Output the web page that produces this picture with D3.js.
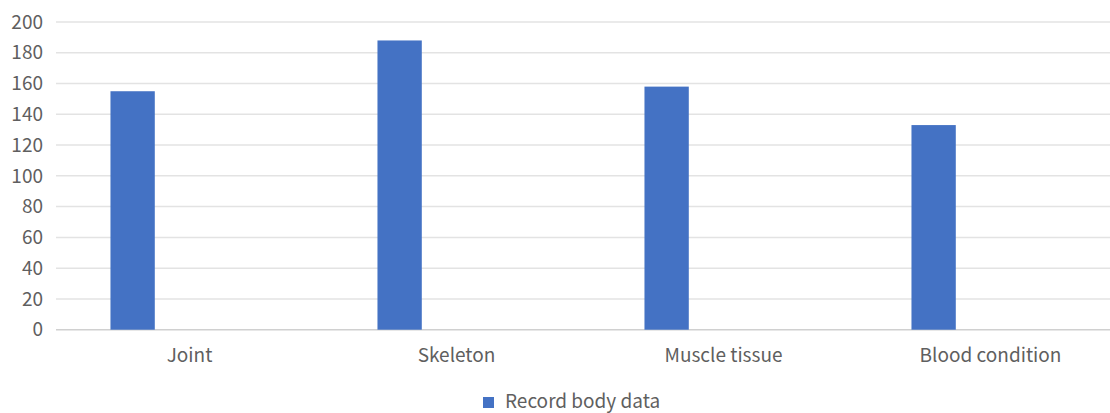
<!DOCTYPE html>
<html>
<head>
<meta charset="utf-8">
<script src="https://cdn.jsdelivr.net/npm/d3@7"></script>
<style>
  html, body { margin: 0; padding: 0; background: #fff; }
  svg { display: block; font-family: "Noto Sans CJK SC", "Noto Sans", sans-serif; }
</style>
</head>
<body>
<svg id="chart" width="1110" height="413"></svg>
<script>
const categories = ["Joint", "Skeleton", "Muscle tissue", "Blood condition"];
const values = [155, 188, 158, 133];
const seriesName = "Record body data";
const yTicks = [0, 20, 40, 60, 80, 100, 120, 140, 160, 180, 200];

(function () {
  const svg = d3.select("#chart");
  const W = 1110;
  const plotLeft = 56, plotRight = 1124, plotTop = 22, plotBottom = 329.7;
  const fontSize = 19;
  const textColor = "#5f5f5f";

  const x = d3.scaleBand().domain(categories).range([plotLeft, plotRight]).padding(0);
  const y = d3.scaleLinear().domain([0, 200]).range([plotBottom, plotTop]);

  // horizontal gridlines
  svg.append("g")
    .selectAll("line")
    .data(yTicks)
    .join("line")
    .attr("x1", plotLeft).attr("x2", W)
    .attr("y1", d => y(d)).attr("y2", d => y(d))
    .attr("stroke", d => d === 0 ? "#d0d0d0" : "#e3e3e3")
    .attr("stroke-width", 1.5);

  // y tick labels
  svg.append("g")
    .selectAll("text")
    .data(yTicks)
    .join("text")
    .attr("x", 43)
    .attr("y", d => y(d))
    .attr("dy", "0.35em")
    .attr("text-anchor", "end")
    .attr("fill", textColor)
    .attr("font-size", fontSize)
    .text(d => d);

  // bars sit in the first slot of each category band
  const bw = x.bandwidth();
  svg.append("g")
    .selectAll("rect")
    .data(categories.map((c, i) => ({ c, v: values[i] })))
    .join("rect")
    .attr("x", d => x(d.c) + bw * 0.204)
    .attr("width", bw * 0.166)
    .attr("y", d => y(d.v))
    .attr("height", d => y(0) - y(d.v))
    .attr("fill", "#4472C4");

  // category labels
  svg.append("g")
    .selectAll("text")
    .data(categories)
    .join("text")
    .attr("x", d => x(d) + bw / 2)
    .attr("y", 362)
    .attr("text-anchor", "middle")
    .attr("fill", textColor)
    .attr("font-size", fontSize)
    .text(d => d);

  // legend
  const lg = svg.append("g").attr("transform", "translate(483,397)");
  lg.append("rect").attr("width", 11).attr("height", 11).attr("fill", "#4472C4");
  lg.append("text")
    .attr("x", 22).attr("y", 11)
    .attr("fill", textColor)
    .attr("font-size", fontSize)
    .text(seriesName);
})();
</script>
</body>
</html>
